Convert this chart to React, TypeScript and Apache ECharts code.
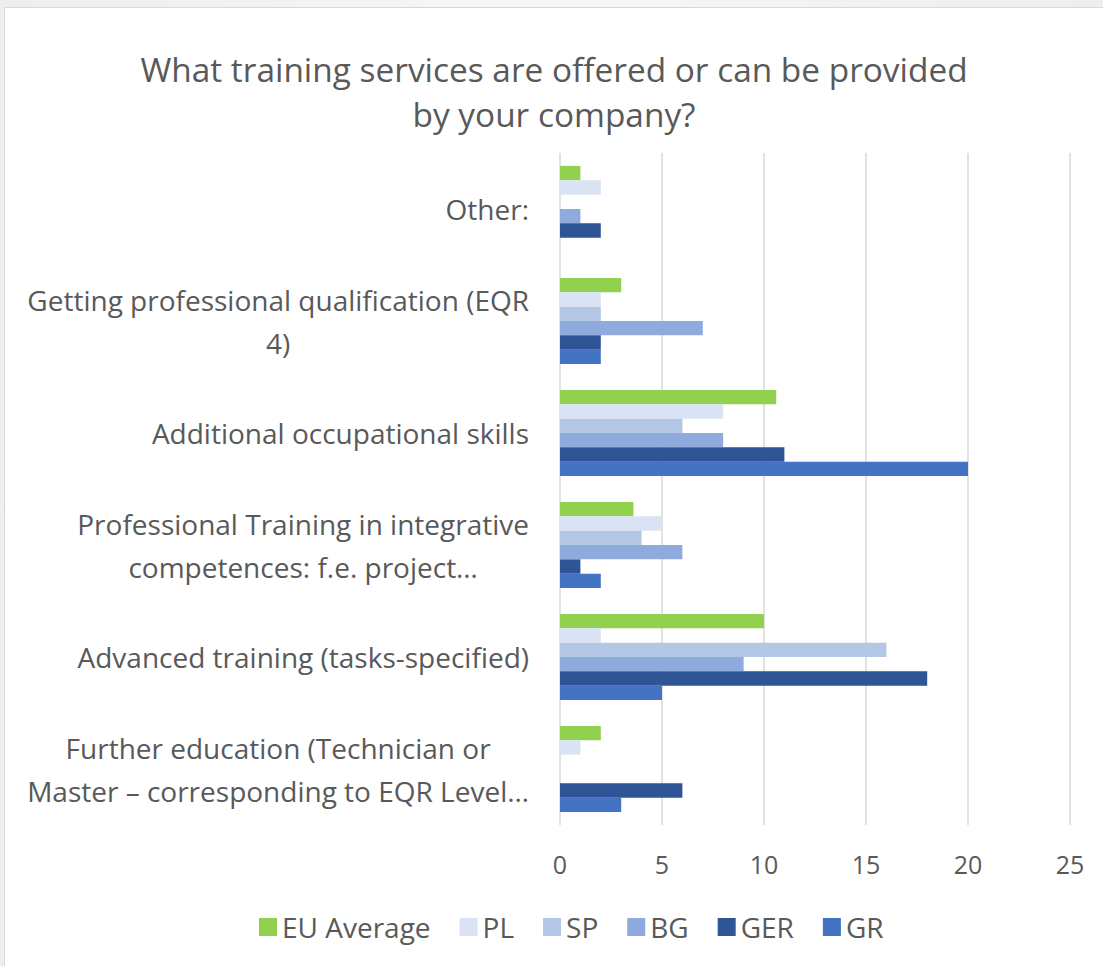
import React, { useEffect, useRef } from "react";
import * as echarts from "echarts";

const title = "What training services are offered or can be provided\nby your company?";

const categories = [
  "Other:",
  "Getting professional qualification (EQR\n4)",
  "Additional occupational skills",
  "Professional Training in integrative\ncompetences: f.e. project…",
  "Advanced training (tasks-specified)",
  "Further education (Technician or\nMaster – corresponding to EQR Level…",
];

const seriesNames = ["EU Average", "PL", "SP", "BG", "GER", "GR"];
const seriesColors = ["#92D050", "#DAE3F3", "#B4C7E7", "#8FAADC", "#2F5597", "#4472C4"];

const euAverage = [1, 3, 10.6, 3.6, 10, 2];
const pl = [2, 2, 8, 5, 2, 1];
const sp = [0, 2, 6, 4, 16, 0];
const bg = [1, 7, 8, 6, 9, 0];
const ger = [2, 2, 11, 1, 18, 6];
const gr = [0, 2, 20, 2, 5, 3];

const seriesValues = [euAverage, pl, sp, bg, ger, gr];

const xTicks = { min: 0, max: 25, interval: 5 };

const FONT = "'Open Sans', Lato, sans-serif";

export default function App() {
  const ref = useRef<HTMLDivElement>(null);

  useEffect(() => {
    if (!ref.current) return;
    const chart = echarts.init(ref.current, undefined, { renderer: "svg" });
    chart.setOption({
      animation: false,
      backgroundColor: "#ffffff",
      textStyle: { fontFamily: FONT },
      title: {
        text: title,
        left: "center",
        top: 33,
        textStyle: {
          fontFamily: FONT,
          fontSize: 33.4,
          fontWeight: "normal",
          color: "#595959",
          lineHeight: 45,
        },
      },
      legend: {
        top: 900,
        left: 249,
        icon: "rect",
        itemWidth: 18,
        itemHeight: 18,
        itemGap: 29,
        textStyle: { fontFamily: FONT, fontSize: 28, color: "#595959" },
        data: seriesNames,
      },
      grid: { left: 555, right: 33, top: 145, bottom: 141, containLabel: false },
      xAxis: {
        type: "value",
        min: xTicks.min,
        max: xTicks.max,
        interval: xTicks.interval,
        axisLine: { show: false },
        axisTick: { show: false },
        splitLine: { lineStyle: { color: "#d9d9d9", width: 1.5 } },
        axisLabel: { fontFamily: FONT, fontSize: 25, color: "#595959", margin: 26 },
      },
      yAxis: {
        type: "category",
        inverse: true,
        data: categories,
        axisLine: { show: false },
        axisTick: { show: false },
        axisLabel: {
          margin: 31,
          formatter: (v: string) =>
            v
              .split("\n")
              .map((l) => "{c|" + l + "}")
              .join("\n"),
          rich: {
            c: {
              align: "center",
              fontFamily: FONT,
              fontSize: 28,
              color: "#595959",
              lineHeight: 43,
            },
          },
        },
      },
      series: seriesNames.map((name, i) => ({
        name,
        type: "bar",
        data: seriesValues[i],
        barGap: "0%",
        barCategoryGap: "23%",
        itemStyle: { color: seriesColors[i] },
      })),
    });
    return () => chart.dispose();
  }, []);

  return (
    <div
      style={{
        position: "fixed",
        left: 0,
        top: 0,
        width: 1103,
        height: 966,
        background: "linear-gradient(90deg,#eeeeee,#f7f7f7,#eeeeee)",
      }}
    >
      <div
        style={{
          position: "absolute",
          left: 4,
          top: 7,
          width: 1099,
          height: 959,
          borderLeft: "1px solid #d9d9d9",
          borderTop: "1px solid #d9d9d9",
          boxSizing: "border-box",
          background: "#fff",
        }}
      />
      <div ref={ref} style={{ position: "absolute", left: 5, top: 8, width: 1098, height: 958 }} />
    </div>
  );
}
